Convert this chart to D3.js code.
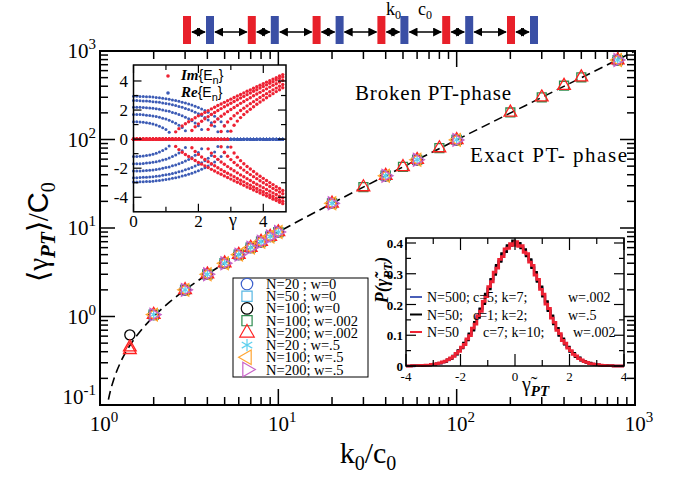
<!DOCTYPE html>
<html>
<head>
<meta charset="utf-8">
<script src="https://cdn.jsdelivr.net/npm/d3@7"></script>
<style>
  body { margin: 0; background: #fff; }
  text { font-family: "Liberation Serif", "Times New Roman", serif; fill: #000; }
</style>
</head>
<body>
<svg id="chart" width="679" height="480"></svg>
<script>
// ---- main plot data: <gamma_PT>/c0 vs k0/c0 ----
const kSmall = [2, 3, 4, 5, 6, 7, 8, 9, 10, 20, 40, 60, 100, 800];
const gSmall = [1.05, 2.0, 3.0, 4.0, 5.0, 6.0, 7.0, 8.0, 9.0, 19, 39, 59, 99, 790];
const kLarge = [2, 3, 4, 5, 6, 7, 8, 9, 10, 20, 30, 40, 50, 60, 80, 100, 200, 300, 400, 500, 800];
const gLarge = [1.05, 2.0, 3.0, 4.0, 5.0, 6.0, 7.0, 8.0, 9.0, 19, 29, 39, 49, 59, 80, 99, 202, 300, 405, 505, 790];
const kLow = [1.47];
const gLowCircle = [0.62];
const gLowTriangle = [0.42, 0.45];

const fitK = [1.08, 1.12, 1.2, 1.3, 1.5, 1.7, 2, 2.5, 3, 4, 6, 10, 20, 50, 100, 300, 1000];
const fitG = [0.08, 0.12, 0.2, 0.3, 0.5, 0.7, 1, 1.5, 2, 3, 5, 9, 19, 49, 99, 299, 1000];

const legendLabels = ["N=20 ; w=0", "N=50 ; w=0", "N=100; w=0", "N=100; w=.002",
                      "N=200; w=.002", "N=20  ; w=.5", "N=100; w=.5", "N=200; w=.5"];

// ---- upper inset: eigenvalues vs gamma ----
const gammaGrid = [0,0.1,0.2,0.3,0.4,0.5,0.6,0.7,0.8,0.9,1.0,1.1,1.2,1.3,1.4,1.5,1.6,1.7,1.8,1.9,
  2.0,2.1,2.2,2.3,2.4,2.5,2.6,2.7,2.8,2.9,3.0,3.1,3.2,3.3,3.4,3.5,3.6,3.7,3.8,3.9,
  4.0,4.1,4.2,4.3,4.4,4.5,4.6];
const levelEP = [1.2, 1.7, 2.2, 2.65, 2.95];
const level1 = [1.20,1.20,1.18,1.16,1.13,1.09,1.04,0.97,0.89,0.79,0.66,0.48,0.00,
  0.50,0.72,0.90,1.06,1.20,1.34,1.47,1.60,1.72,1.84,1.96,2.08,2.19,2.31,2.42,2.53,2.64,2.75,
  2.86,2.97,3.07,3.18,3.29,3.39,3.50,3.61,3.71,3.82,3.92,4.02,4.13,4.23,4.34,4.44];
const level2 = [1.70,1.70,1.69,1.67,1.65,1.63,1.59,1.55,1.50,1.44,1.38,1.30,1.20,1.10,0.96,0.80,0.57,0.00,
  0.59,0.85,1.05,1.23,1.40,1.55,1.69,1.83,1.97,2.10,2.23,2.35,2.47,2.59,2.71,2.83,2.94,3.06,
  3.17,3.29,3.40,3.51,3.62,3.73,3.84,3.95,4.06,4.17,4.27];
const level3 = [2.20,2.20,2.19,2.18,2.16,2.14,2.12,2.09,2.05,2.01,1.96,1.91,1.84,1.78,1.70,1.61,
  1.51,1.40,1.27,1.11,0.92,0.66,0.00,0.67,0.96,1.19,1.39,1.57,1.73,1.89,2.04,2.18,2.32,2.46,
  2.59,2.72,2.85,2.98,3.10,3.22,3.34,3.46,3.58,3.70,3.81,3.93,4.04];
const level4 = [2.65,2.65,2.64,2.63,2.62,2.60,2.58,2.56,2.53,2.49,2.45,2.41,2.36,2.31,2.25,2.19,
  2.11,2.03,1.95,1.85,1.74,1.62,1.48,1.32,1.12,0.88,0.51,0.52,0.90,1.18,1.41,1.61,1.79,1.97,
  2.13,2.29,2.44,2.58,2.72,2.86,3.00,3.13,3.26,3.39,3.51,3.64,3.76];
const level5 = [2.95,2.95,2.94,2.94,2.92,2.91,2.89,2.87,2.84,2.81,2.78,2.74,2.70,2.65,2.60,2.54,
  2.48,2.41,2.34,2.26,2.17,2.07,1.97,1.85,1.72,1.57,1.39,1.19,0.93,0.54,0.55,0.95,1.24,1.48,
  1.69,1.88,2.06,2.23,2.40,2.55,2.70,2.85,2.99,3.13,3.27,3.40,3.53];
const levels = [level1, level2, level3, level4, level5];

// ---- lower inset: histograms of rescaled gamma_PT (bin width 0.1) ----
const binEdges = [-4,-3.9,-3.8,-3.7,-3.6,-3.5,-3.4,-3.3,-3.2,-3.1,-3,-2.9,-2.8,-2.7,-2.6,-2.5,-2.4,-2.3,-2.2,-2.1,
  -2,-1.9,-1.8,-1.7,-1.6,-1.5,-1.4,-1.3,-1.2,-1.1,-1,-0.9,-0.8,-0.7,-0.6,-0.5,-0.4,-0.3,-0.2,-0.1,
  0,0.1,0.2,0.3,0.4,0.5,0.6,0.7,0.8,0.9,1,1.1,1.2,1.3,1.4,1.5,1.6,1.7,1.8,1.9,
  2,2.1,2.2,2.3,2.4,2.5,2.6,2.7,2.8,2.9,3,3.1,3.2,3.3,3.4,3.5,3.6,3.7,3.8,3.9,4];
const histBlue = [0.000,0.000,0.000,0.001,0.001,0.001,0.002,0.002,0.003,0.004,0.005,0.007,0.009,0.012,0.015,0.019,
  0.025,0.032,0.039,0.050,0.059,0.073,0.085,0.103,0.118,0.140,0.159,0.184,0.205,0.231,0.253,0.279,0.300,0.324,
  0.342,0.362,0.374,0.388,0.394,0.399,
  0.398,0.395,0.386,0.376,0.360,0.344,0.322,0.302,0.277,0.255,0.229,0.207,0.182,0.161,0.138,0.121,0.101,0.087,
  0.071,0.061,0.048,0.041,0.031,0.026,0.019,0.016,0.011,0.009,0.007,0.005,0.004,0.003,0.002,0.001,0.001,0.001,
  0.000,0.000,0.000,0.000];
const histBlack = [0.000,0.000,0.001,0.001,0.001,0.001,0.002,0.003,0.003,0.005,0.005,0.008,0.009,0.013,0.014,0.021,
  0.024,0.033,0.038,0.051,0.058,0.075,0.084,0.105,0.116,0.143,0.157,0.187,0.202,0.235,0.250,0.283,0.297,0.328,
  0.339,0.366,0.371,0.392,0.391,0.408,
  0.396,0.400,0.383,0.379,0.357,0.347,0.319,0.305,0.274,0.258,0.226,0.210,0.179,0.164,0.136,0.123,0.099,0.089,
  0.070,0.062,0.047,0.042,0.030,0.027,0.018,0.016,0.011,0.010,0.006,0.005,0.004,0.003,0.002,0.002,0.001,0.001,
  0.000,0.000,0.000,0.000];
const histRed = [0.000,0.000,0.001,0.001,0.001,0.002,0.002,0.003,0.003,0.005,0.006,0.008,0.010,0.013,0.016,0.021,
  0.026,0.031,0.041,0.048,0.061,0.070,0.088,0.099,0.123,0.136,0.164,0.178,0.210,0.226,0.258,0.274,0.305,0.318,
  0.347,0.356,0.381,0.383,0.398,0.392,
  0.404,0.389,0.391,0.370,0.365,0.338,0.327,0.296,0.282,0.249,0.234,0.201,0.187,0.156,0.142,0.116,0.105,0.083,
  0.074,0.058,0.050,0.038,0.033,0.024,0.020,0.014,0.012,0.008,0.007,0.005,0.004,0.003,0.002,0.001,0.001,0.001,
  0.000,0.000,0.000,0.000];
const histLabels = [["N=500;", "c=5; k=7;", "w=.002"], ["N=50;", "c=1; k=2;", "w=.5"], ["N=50", "c=7; k=10;", "w=.002"]];

// ---- schematic on top ----
const cellIndex = [0, 1, 2, 3, 4, 5];

const svg = d3.select('#chart');

// main scales
const x = d3.scaleLog().domain([1, 1000]).range([100, 635]);
const y = d3.scaleLog().domain([0.1, 1000]).range([405, 51]);

function logTicks(lo, hi) {
  const out = [];
  for (let e = Math.round(Math.log10(lo)); e < Math.round(Math.log10(hi)); e++) {
    for (let m = 1; m < 10; m++) out.push({ v: m * Math.pow(10, e), major: m === 1 });
  }
  out.push({ v: hi, major: true });
  return out;
}

const main = svg.append('g');
const xt = logTicks(1, 1000), yt = logTicks(0.1, 1000);
// ticks on all four sides, pointing inward
main.selectAll('.xtb').data(xt).join('line')
  .attr('x1', d => x(d.v)).attr('x2', d => x(d.v))
  .attr('y1', 405).attr('y2', d => 405 - (d.major ? 16 : 8))
  .attr('stroke', '#000').attr('stroke-width', 1.5);
main.selectAll('.xtt').data(xt).join('line')
  .attr('x1', d => x(d.v)).attr('x2', d => x(d.v))
  .attr('y1', 51).attr('y2', d => 51 + (d.major ? 16 : 8))
  .attr('stroke', '#000').attr('stroke-width', 1.5);
main.selectAll('.ytl').data(yt).join('line')
  .attr('y1', d => y(d.v)).attr('y2', d => y(d.v))
  .attr('x1', 100).attr('x2', d => 100 + (d.major ? 15 : 8))
  .attr('stroke', '#000').attr('stroke-width', 1.5);
main.selectAll('.ytr').data(yt).join('line')
  .attr('y1', d => y(d.v)).attr('y2', d => y(d.v))
  .attr('x1', 635).attr('x2', d => 635 - (d.major ? 15 : 8))
  .attr('stroke', '#000').attr('stroke-width', 1.5);
main.append('rect').attr('x', 100).attr('y', 51).attr('width', 535).attr('height', 354)
  .attr('fill', 'none').attr('stroke', '#000').attr('stroke-width', 2);

// tick labels
const xExp = [0, 1, 2, 3];
xExp.forEach(e => {
  const t = main.append('text').attr('x', x(Math.pow(10, e)) + 4).attr('y', 431)
    .attr('text-anchor', 'middle').attr('font-size', 21).text('10');
  t.append('tspan').attr('dy', -9).attr('font-size', 15).text(e);
});
const yExp = [-1, 0, 1, 2, 3];
yExp.forEach(e => {
  const yy = e === -1 ? y(0.1) - 1 : y(Math.pow(10, e)) + 7;
  const t = main.append('text').attr('x', 96).attr('y', yy)
    .attr('text-anchor', 'end').attr('font-size', 21).text('10');
  t.append('tspan').attr('dy', -9).attr('font-size', 15).text(e);
});

// axis titles
const xTitle = main.append('text').attr('x', 368).attr('y', 463).attr('text-anchor', 'middle').attr('font-size', 30);
xTitle.append('tspan').text('k');
xTitle.append('tspan').attr('dy', 7).attr('font-size', 20).text('0');
xTitle.append('tspan').attr('dy', -7).text('/c');
xTitle.append('tspan').attr('dy', 7).attr('font-size', 20).text('0');

const yTitle = main.append('text').attr('transform', 'translate(48,232) rotate(-90)')
  .attr('text-anchor', 'middle').attr('font-size', 29);
yTitle.append('tspan').text('\u27e8\u03b3');
yTitle.append('tspan').attr('dy', 7).attr('font-size', 21).attr('font-weight', 'bold').attr('font-style', 'italic').text('PT');
yTitle.append('tspan').attr('dy', -7).text('\u27e9/');
yTitle.append('tspan').attr('font-family', 'Liberation Sans, Arial, sans-serif').text('C');
yTitle.append('tspan').attr('dy', 7).attr('font-size', 20).text('0');

// clip for plot area
svg.append('clipPath').attr('id', 'mainclip').append('rect')
  .attr('x', 100).attr('y', 51).attr('width', 535).attr('height', 354);

// dashed fit curve
const fitLine = d3.line().x(d => x(d[0])).y(d => y(d[1])).curve(d3.curveMonotoneX);
main.append('path').datum(fitK.map((k, i) => [k, fitG[i]]))
  .attr('d', fitLine).attr('clip-path', 'url(#mainclip)')
  .attr('fill', 'none').attr('stroke', '#000').attr('stroke-width', 1.6).attr('stroke-dasharray', '9,5');

// series
const series = [
  { name: legendLabels[0], sym: d3.symbolCircle, size: 80, rot: 0, color: '#3a5fcd', k: kSmall, g: gSmall },
  { name: legendLabels[1], sym: d3.symbolSquare, size: 80, rot: 0, color: '#57b7e3', k: kSmall, g: gSmall },
  { name: legendLabels[2], sym: d3.symbolCircle, size: 80, rot: 0, color: '#000000', k: kLow.concat(kSmall), g: gLowCircle.concat(gSmall) },
  { name: legendLabels[3], sym: d3.symbolSquare, size: 80, rot: 0, color: '#2e8b4e', k: kLarge, g: gLarge },
  { name: legendLabels[4], sym: d3.symbolTriangle, size: 70, rot: 0, color: '#ff2020', k: [kLow[0], kLow[0]].concat(kLarge), g: gLowTriangle.concat(gLarge) },
  { name: legendLabels[5], sym: d3.symbolAsterisk, size: 80, rot: 0, color: '#5fd0ee', k: kSmall, g: gSmall },
  { name: legendLabels[6], sym: d3.symbolTriangle, size: 70, rot: -90, color: '#ffa533', k: kSmall, g: gSmall },
  { name: legendLabels[7], sym: d3.symbolTriangle, size: 70, rot: 90, color: '#c862c8', k: kSmall, g: gSmall }
];

series.forEach(s => {
  const path = d3.symbol().type(s.sym).size(s.size)();
  main.append('g').selectAll('path').data(s.k.map((k, i) => [k, s.g[i]])).join('path')
    .attr('d', path)
    .attr('transform', d => `translate(${x(d[0])},${y(d[1])}) rotate(${s.rot})`)
    .attr('fill', 'none').attr('stroke', s.color).attr('stroke-width', 1.3);
});

// phase labels
main.append('text').attr('x', 355).attr('y', 100).attr('font-size', 21)
  .attr('textLength', 156).attr('lengthAdjust', 'spacing').text('Broken PT-phase');
main.append('text').attr('x', 470).attr('y', 162).attr('font-size', 21)
  .attr('textLength', 157).attr('lengthAdjust', 'spacing').text('Exact PT- phase');

// legend box
const lg = svg.append('g');
lg.append('rect').attr('x', 233).attr('y', 278).attr('width', 135).attr('height', 99)
  .attr('fill', '#fff').attr('stroke', '#000').attr('stroke-width', 1);
const legY = d3.scaleLinear().domain([0, 7]).range([284, 369.5]);
series.forEach((s, i) => {
  const path = d3.symbol().type(s.sym).size(s.size * 1.3)();
  lg.append('path').attr('d', path)
    .attr('transform', `translate(247,${legY(i)}) rotate(${s.rot})`)
    .attr('fill', 'none').attr('stroke', s.color).attr('stroke-width', 1.2);
  lg.append('text').attr('x', 266).attr('y', legY(i) + 5).attr('font-size', 14.5).text(s.name);
});

// ---- upper-left inset ----
const ins1 = svg.append('g');
const gx = d3.scaleLinear().domain([0, 4.7]).range([133.5, 286]);
const gy = d3.scaleLinear().domain([-5, 5.1]).range([211.8, 65]);
ins1.append('rect').attr('x', 133.5).attr('y', 65).attr('width', 152.5).attr('height', 146.8)
  .attr('fill', '#fff');
const pts = [];
levels.forEach((lv, li) => {
  lv.forEach((v, i) => {
    const gm = gammaGrid[i];
    const broken = gm >= levelEP[li];
    pts.push({ g: gm, re: broken ? 0 : v, im: broken ? v : 0 });
  });
});
const blueDots = [], redDots = [];
pts.forEach(p => {
  blueDots.push([p.g, p.re], [p.g, -p.re]);
  redDots.push([p.g, p.im], [p.g, -p.im]);
});
ins1.append('g').selectAll('circle').data(blueDots).join('circle')
  .attr('cx', d => gx(d[0])).attr('cy', d => gy(d[1])).attr('r', 1.5).attr('fill', '#3c5bb5');
ins1.append('g').selectAll('circle').data(redDots).join('circle')
  .attr('cx', d => gx(d[0])).attr('cy', d => gy(d[1])).attr('r', 1.7).attr('fill', '#ee2233');
const g1xt = [0, 1, 2, 3, 4], g1yt = [-4, -3, -2, -1, 0, 1, 2, 3, 4];
ins1.selectAll('.a').data(g1xt).join('line')
  .attr('x1', d => gx(d)).attr('x2', d => gx(d)).attr('y1', 211.8).attr('y2', d => 211.8 - (d % 2 === 0 ? 8 : 5))
  .attr('stroke', '#000').attr('stroke-width', 1.2);
ins1.selectAll('.b').data(g1xt).join('line')
  .attr('x1', d => gx(d)).attr('x2', d => gx(d)).attr('y1', 65).attr('y2', d => 65 + (d % 2 === 0 ? 8 : 5))
  .attr('stroke', '#000').attr('stroke-width', 1.2);
ins1.selectAll('.c').data(g1yt).join('line')
  .attr('y1', d => gy(d)).attr('y2', d => gy(d)).attr('x1', 133.5).attr('x2', d => 133.5 + (d % 2 === 0 ? 8 : 5))
  .attr('stroke', '#000').attr('stroke-width', 1.2);
ins1.selectAll('.d').data(g1yt).join('line')
  .attr('y1', d => gy(d)).attr('y2', d => gy(d)).attr('x1', 286).attr('x2', d => 286 - (d % 2 === 0 ? 8 : 5))
  .attr('stroke', '#000').attr('stroke-width', 1.2);
ins1.append('rect').attr('x', 133.5).attr('y', 65).attr('width', 152.5).attr('height', 146.8)
  .attr('fill', 'none').attr('stroke', '#000').attr('stroke-width', 1.5);
[-4, -2, 0, 2, 4].forEach(v => {
  ins1.append('text').attr('x', 128).attr('y', gy(v) + 6).attr('text-anchor', 'end').attr('font-size', 17).text(v);
});
[0, 2, 4].forEach(v => {
  ins1.append('text').attr('x', gx(v)).attr('y', 227).attr('text-anchor', 'middle').attr('font-size', 17).text(v);
});
ins1.append('text').attr('x', 233).attr('y', 226).attr('text-anchor', 'middle').attr('font-size', 18).text('\u03b3');
// inset legend
ins1.append('circle').attr('cx', 168).attr('cy', 76).attr('r', 1.8).attr('fill', '#ee2233');
ins1.append('circle').attr('cx', 168).attr('cy', 93).attr('r', 1.8).attr('fill', '#3c5bb5');
[['Im', 80], ['Re', 97]].forEach(([lab, yy]) => {
  const t = ins1.append('text').attr('x', 181).attr('y', yy).attr('font-size', 15);
  t.append('tspan').attr('font-weight', 'bold').attr('font-style', 'italic').text(lab);
  t.append('tspan').attr('font-family', 'Liberation Sans, Arial, sans-serif').attr('font-size', 14).text('{E');
  t.append('tspan').attr('font-family', 'Liberation Sans, Arial, sans-serif').attr('font-size', 11).attr('dy', 4).text('n');
  t.append('tspan').attr('font-family', 'Liberation Sans, Arial, sans-serif').attr('font-size', 14).attr('dy', -4).text('}');
});

// ---- lower-right inset ----
const ins2 = svg.append('g');
const hx = d3.scaleLinear().domain([-4, 4]).range([406, 624]);
const hy = d3.scaleLinear().domain([0, 0.4]).range([366, 243]);
ins2.append('rect').attr('x', 406).attr('y', 238).attr('width', 218).attr('height', 128).attr('fill', '#fff');
const stepLine = d3.line().x(d => hx(d[0])).y(d => hy(d[1])).curve(d3.curveStepAfter);
[[histBlue, '#4a5fb8', 2.4], [histBlack, '#000', 2.2], [histRed, '#ee2233', 2.8]].forEach(([h, col, sw]) => {
  const data = h.map((v, i) => [binEdges[i], v]);
  data.push([binEdges[binEdges.length - 1], h[h.length - 1]]);
  ins2.append('path').datum(data).attr('d', stepLine)
    .attr('fill', 'none').attr('stroke', col).attr('stroke-width', sw);
});
const hxt = [-4, -3, -2, -1, 0, 1, 2, 3, 4];
ins2.selectAll('.e').data(hxt).join('line')
  .attr('x1', d => hx(d)).attr('x2', d => hx(d)).attr('y1', 366).attr('y2', d => 366 - (d % 2 === 0 ? 12 : 6))
  .attr('stroke', '#000').attr('stroke-width', 1.2);
ins2.selectAll('.f').data(hxt).join('line')
  .attr('x1', d => hx(d)).attr('x2', d => hx(d)).attr('y1', 238).attr('y2', d => 238 + (d % 2 === 0 ? 12 : 6))
  .attr('stroke', '#000').attr('stroke-width', 1.2);
const hyt = [0, 0.05, 0.1, 0.15, 0.2, 0.25, 0.3, 0.35, 0.4];
ins2.selectAll('.g').data(hyt).join('line')
  .attr('y1', d => hy(d)).attr('y2', d => hy(d)).attr('x1', 406).attr('x2', (d, i) => 406 + (i % 2 === 0 ? 10 : 5))
  .attr('stroke', '#000').attr('stroke-width', 1.2);
ins2.selectAll('.h').data(hyt).join('line')
  .attr('y1', d => hy(d)).attr('y2', d => hy(d)).attr('x1', 624).attr('x2', (d, i) => 624 - (i % 2 === 0 ? 10 : 5))
  .attr('stroke', '#000').attr('stroke-width', 1.2);
ins2.append('rect').attr('x', 406).attr('y', 238).attr('width', 218).attr('height', 128)
  .attr('fill', 'none').attr('stroke', '#000').attr('stroke-width', 1.5);
[-4, -2, 0, 2, 4].forEach(v => {
  ins2.append('text').attr('x', hx(v)).attr('y', 381).attr('text-anchor', 'middle').attr('font-size', 13).text(v);
});
[0, 0.1, 0.2, 0.3, 0.4].forEach(v => {
  ins2.append('text').attr('x', 403).attr('y', hy(v) + 5).attr('text-anchor', 'end')
    .attr('font-size', 13).attr('font-weight', 'bold').text(v);
});
const hxTitle = ins2.append('text').attr('x', 522).attr('y', 391).attr('font-size', 20);
hxTitle.append('tspan').text('\u03b3\u0303');
hxTitle.append('tspan').attr('dy', 5).attr('font-size', 15).attr('font-weight', 'bold').attr('font-style', 'italic').text('PT');
const hyTitle = ins2.append('text').attr('transform', 'translate(388,280) rotate(-90)')
  .attr('text-anchor', 'middle').attr('font-size', 18).attr('font-weight', 'bold').attr('font-style', 'italic');
hyTitle.append('tspan').text('P(\u03b3\u0303');
hyTitle.append('tspan').attr('dy', 4).attr('font-size', 13).text('PT');
hyTitle.append('tspan').attr('dy', -4).text(')');
const histCols = ['#4a5fb8', '#000', '#ee2233'];
histLabels.forEach((row, i) => {
  const yy = 302 + i * 17.5;
  ins2.append('line').attr('x1', 410).attr('x2', 422).attr('y1', yy - 5).attr('y2', yy - 5)
    .attr('stroke', histCols[i]).attr('stroke-width', 2);
  ins2.append('text').attr('x', 427).attr('y', yy).attr('font-size', 14).text(row[0]);
  ins2.append('text').attr('x', i === 2 ? 483 : 473).attr('y', yy).attr('font-size', 14).text(row[1]);
  ins2.append('text').attr('x', i === 2 ? 573 : 568).attr('y', yy).attr('font-size', 14).text(row[2]);
});

// ---- schematic chain on top ----
const chain = svg.append('g');
const cx = d3.scaleLinear().domain([0, 5]).range([183, 507]);
const arrowY = 32;
svg.append('defs').append('marker').attr('id', 'ah').attr('viewBox', '0 0 10 10')
  .attr('refX', 9).attr('refY', 5).attr('markerWidth', 6).attr('markerHeight', 6).attr('orient', 'auto-start-reverse')
  .append('path').attr('d', 'M0,0 L10,5 L0,10 Z').attr('fill', '#000');
cellIndex.forEach(i => {
  chain.append('line').attr('x1', cx(i) + 9).attr('x2', cx(i) + 22).attr('y1', arrowY).attr('y2', arrowY)
    .attr('stroke', '#000').attr('stroke-width', 1.5)
    .attr('marker-start', 'url(#ah)').attr('marker-end', 'url(#ah)');
  if (i < cellIndex.length - 1) {
    chain.append('line').attr('x1', cx(i) + 32).attr('x2', cx(i + 1) - 1).attr('y1', arrowY).attr('y2', arrowY)
      .attr('stroke', '#000').attr('stroke-width', 1.5)
      .attr('marker-start', 'url(#ah)').attr('marker-end', 'url(#ah)');
  }
  chain.append('rect').attr('x', cx(i)).attr('y', 16).attr('width', 8).attr('height', 28).attr('fill', '#e8202a');
  chain.append('rect').attr('x', cx(i) + 23).attr('y', 16).attr('width', 8).attr('height', 28).attr('fill', '#3a4fa5');
});
const kLab = chain.append('text').attr('x', 386).attr('y', 15).attr('font-size', 18);
kLab.append('tspan').text('k');
kLab.append('tspan').attr('dy', 4).attr('font-size', 12).text('0');
const cLab = chain.append('text').attr('x', 418).attr('y', 15).attr('font-size', 18);
cLab.append('tspan').text('c');
cLab.append('tspan').attr('dy', 4).attr('font-size', 12).text('0');
</script>
</body>
</html>
